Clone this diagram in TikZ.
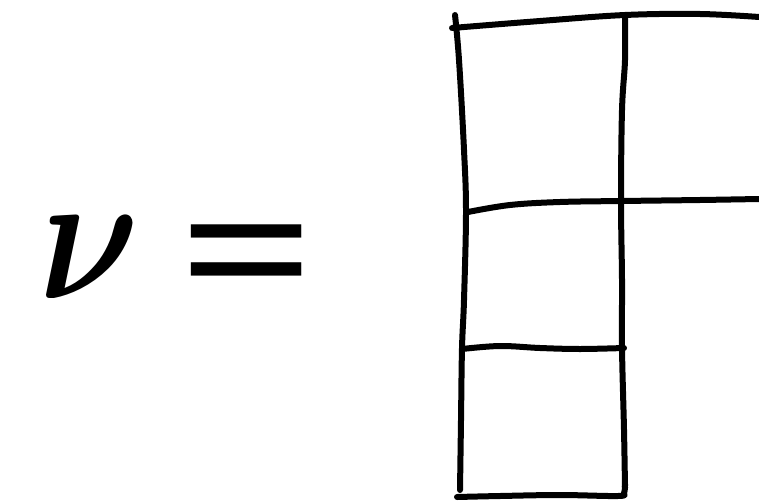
\documentclass[tikz,border=0pt]{standalone}
\usepackage{amsmath}
\usepackage{fontspec}
\setmainfont{Liberation Serif}
\begin{document}
\begin{tikzpicture}[x=1pt,y=-1pt,
  stroke/.style={line width=6pt,line cap=round,line join=round},
  bigtext/.style={inner sep=0pt,anchor=base}]
\useasboundingbox (0,0) rectangle (759,500);
% label
\node[bigtext,xscale=15.5,yscale=18.5] (nu) at (90,298) {$\boldsymbol{\nu}$};
\node[bigtext,font=\fontsize{190}{190}\selectfont\bfseries,xscale=1.25] (eq) at (247,313) {=};
% left vertical
\draw[stroke] plot[smooth,tension=0.6] coordinates {(455,15) (459,60) (464,150) (466,212) (464,300) (462,348) (461,420) (460,490)};
% middle vertical
\draw[stroke] plot[smooth,tension=0.6] coordinates {(625,15) (625,60) (622,110) (621,201) (622,280) (622,348) (624,430) (625,488)};
% top horizontal
\draw[stroke] plot[smooth,tension=0.6] coordinates {(452,28) (540,21) (625,15) (700,14) (759,17)};
% second horizontal
\draw[stroke] plot[smooth,tension=0.6] coordinates {(468,212) (510,205) (560,202) (622,201) (700,200) (759,199)};
% third horizontal
\draw[stroke] plot[smooth,tension=0.6] coordinates {(462,349) (500,346) (540,348) (580,349) (624,348)};
% bottom
\draw[stroke] plot[smooth,tension=0.6] coordinates {(457,497) (500,496) (560,495) (618,496) (624,493) (625,484)};
\end{tikzpicture}
\end{document}
